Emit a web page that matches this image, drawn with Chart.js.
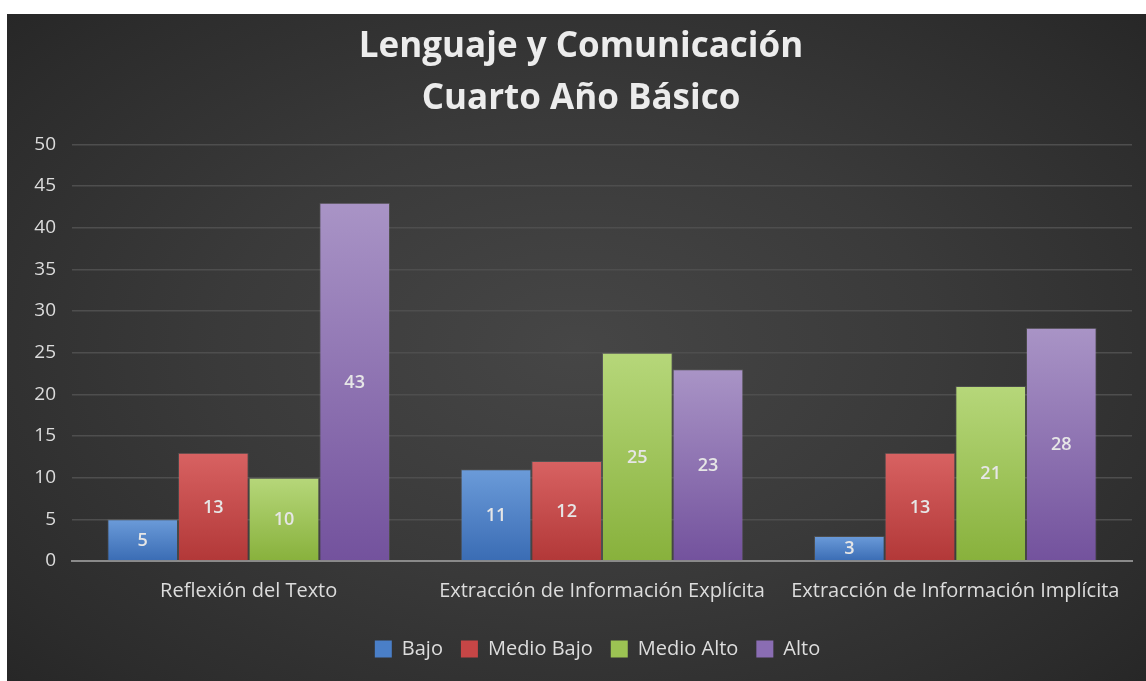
<!DOCTYPE html>
<html>
<head>
<meta charset="utf-8">
<script src="https://cdn.jsdelivr.net/npm/chart.js@4"></script>
<style>
  html, body { margin: 0; padding: 0; background: #ffffff; }
  #wrap {
    position: absolute; left: 7px; top: 14px; width: 1139px; height: 667px;
    background: radial-gradient(ellipse 70% 75% at 50% 50%, #464646 0%, #3a3a3a 45%, #2c2c2c 85%, #262626 100%);
  }
  canvas { display: block; }
</style>
</head>
<body>
<div id="wrap"><canvas id="c" width="1139" height="667"></canvas></div>
<script>
const categories = ["Reflexión del Texto", "Extracción de Información Explícita", "Extracción de Información Implícita"];
const seriesNames = ["Bajo", "Medio Bajo", "Medio Alto", "Alto"];
const bajo = [5, 11, 3];
const medioBajo = [13, 12, 13];
const medioAlto = [10, 25, 21];
const alto = [43, 23, 28];
const yTicks = [0, 5, 10, 15, 20, 25, 30, 35, 40, 45, 50];
const titleLines = ["Lenguaje y Comunicación", "Cuarto Año Básico"];

const palettes = [
  { top: "#6b9bd9", bottom: "#3a6cb4", solid: "#4a7fc8" },
  { top: "#d86262", bottom: "#b23838", solid: "#c64646" },
  { top: "#b6d77a", bottom: "#88b13c", solid: "#9cc353" },
  { top: "#a994c6", bottom: "#73529d", solid: "#8a6db3" }
];

function gradFor(idx) {
  return function (ctx) {
    const chart = ctx.chart;
    if (!chart.chartArea || ctx.type !== 'data') return palettes[idx].solid;
    const y = chart.scales.y;
    const v = ctx.raw;
    const yTop = y.getPixelForValue(v);
    const yBase = y.getPixelForValue(0);
    if (!isFinite(yTop) || !isFinite(yBase) || Math.abs(yBase - yTop) < 1) return palettes[idx].solid;
    const g = chart.ctx.createLinearGradient(0, yTop, 0, yBase);
    g.addColorStop(0, palettes[idx].top);
    g.addColorStop(1, palettes[idx].bottom);
    return g;
  };
}

const seriesData = [bajo, medioBajo, medioAlto, alto];
const datasets = seriesNames.map((name, i) => ({
  label: name,
  data: seriesData[i],
  backgroundColor: gradFor(i),
  borderColor: "rgba(255,255,255,0.10)",
  borderWidth: 1,
  borderSkipped: 'bottom'
}));

const FONT = "'Open Sans', 'Noto Sans', sans-serif";

const valueLabels = {
  id: 'valueLabels',
  afterDatasetsDraw(chart) {
    const ctx = chart.ctx;
    ctx.save();
    ctx.font = "600 18px " + FONT;
    ctx.fillStyle = "#e6e6e6";
    ctx.textAlign = "center";
    ctx.textBaseline = "middle";
    chart.data.datasets.forEach((ds, di) => {
      const meta = chart.getDatasetMeta(di);
      meta.data.forEach((bar, i) => {
        const p = bar.getProps(['x', 'y', 'base'], true);
        ctx.fillText(String(ds.data[i]), p.x, (p.y + p.base) / 2 + 1);
      });
    });
    ctx.restore();
  }
};

// shift title and legend horizontally to match the original centring
const boxShift = {
  id: 'boxShift',
  afterLayout(chart) {
    if (chart.titleBlock) { chart.titleBlock.left += 23; }
    if (chart.legend) { chart.legend.left += 56; }
  }
};

new Chart(document.getElementById('c'), {
  type: 'bar',
  data: { labels: categories, datasets },
  plugins: [valueLabels, boxShift],
  options: {
    responsive: false,
    animation: false,
    devicePixelRatio: 1,
    layout: { padding: { left: 0, right: 14, top: 0, bottom: 12 } },
    datasets: { bar: { categoryPercentage: 0.8, barPercentage: 1.0 } },
    plugins: {
      title: {
        display: true,
        text: titleLines,
        color: "#ececec",
        font: { family: FONT, size: 35, weight: 'bold', lineHeight: 1.49 },
        padding: { top: 7, bottom: 19 }
      },
      legend: {
        position: 'bottom',
        labels: {
          color: "#dddddd",
          font: { family: FONT, size: 20 },
          boxWidth: 17,
          boxHeight: 17,
          padding: 18,
          generateLabels(chart) {
            return seriesNames.map((n, i) => ({
              text: n,
              fillStyle: palettes[i].solid,
              strokeStyle: palettes[i].solid,
              lineWidth: 0,
              fontColor: "#dddddd",
              datasetIndex: i,
              hidden: false
            }));
          }
        }
      },
      tooltip: { enabled: false }
    },
    scales: {
      x: {
        grid: { display: false, drawTicks: false },
        border: { display: true, color: "#8a8a8a", width: 2 },
        ticks: { color: "#dcdcdc", font: { family: FONT, size: 20 }, padding: 18, maxRotation: 0, autoSkip: false }
      },
      y: {
        min: 0, max: 50,
        afterBuildTicks(scale) { scale.ticks = yTicks.map(v => ({ value: v })); },
        afterFit(scale) { scale.width = 65; },
        grid: { color: "#4e4e4e", lineWidth: 1.5, drawTicks: false },
        border: { display: false },
        ticks: { color: "#dcdcdc", font: { family: FONT, size: 19 }, padding: 16 }
      }
    }
  }
});
</script>
</body>
</html>
